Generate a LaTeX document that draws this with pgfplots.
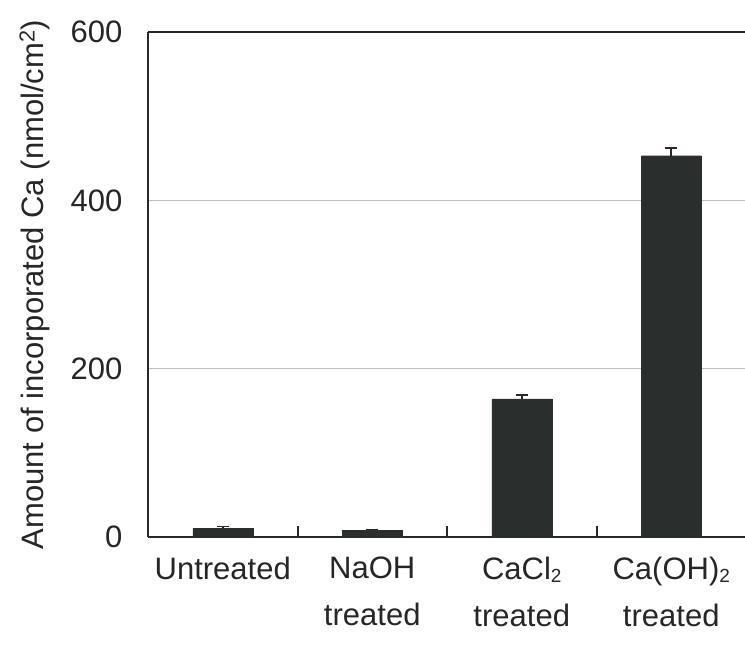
\documentclass[border=0pt]{standalone}
\usepackage{fontspec}
\setmainfont{Liberation Sans}
\usepackage{pgfplots}
\pgfplotsset{compat=1.18}
\definecolor{barc}{RGB}{42,46,45}
\definecolor{axc}{RGB}{40,40,40}
\newcommand{\sub}[1]{\raisebox{-0.12em}{\fontsize{19}{20}\selectfont #1}}
\begin{document}
\begin{tikzpicture}
\useasboundingbox (0,0) rectangle (745pt,-656pt);
\begin{axis}[
  at={(148pt,-537pt)}, anchor=south west,
  scale only axis, width=598pt, height=505pt,
  xmin=-0.5, xmax=3.5, ymin=0, ymax=600,
  axis x line*=box, axis y line*=left,
  axis line style={axc, line width=1.8pt},
  /pgf/number format/assume math mode=true,
  ticklabel style={font=\fontsize{31}{47}\selectfont, text=black!85},
  xtick={0.5,1.5,2.5}, xticklabels={},
  xtick pos=bottom, xtick align=inside,
  major tick length=11pt,
  every tick/.append style={axc, line width=2pt},
  extra x ticks={0,1,2,3},
  extra x tick labels={Untreated,{NaOH\\treated},{CaCl\sub{2}\\treated},{Ca(OH)\sub{2}\\treated}},
  extra x tick style={major tick length=0pt, xticklabel style={align=center, anchor=north, yshift=-16pt}},
  ytick={0,200,400,600},
  ytick style={draw=none},
  yticklabel style={xshift=-22pt},
  ymajorgrids, grid style={black!25, line width=0.9pt},
  ylabel={Amount of incorporated Ca (nmol/cm\textsuperscript{2})},
  ylabel style={at={(axis description cs:-0.1893,0.5)}, anchor=center, font=\fontsize{31}{36}\selectfont, text=black!85},
]
\addplot[ybar, bar width=60pt, fill=barc, draw=barc,
  error bars/.cd, y dir=plus, y explicit,
  error bar style={axc, line width=1.8pt}, error mark options={rotate=90, mark size=6pt, line width=1.8pt, axc}]
  coordinates {(0,10) +- (0,2.5) (1,8) +- (0,1) (2,164) +- (0,5) (3,453) +- (0,9.5)};
\end{axis}
\end{tikzpicture}
\end{document}
